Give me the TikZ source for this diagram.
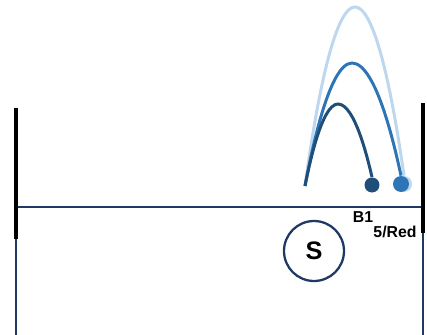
\documentclass[tikz,border=0pt]{standalone}
\usepackage{fontspec}
\setmainfont{Liberation Sans}
\usepackage{tikz}
\usetikzlibrary{positioning}
\definecolor{CourtNavy}{RGB}{31,56,100}
\definecolor{ShotDark}{RGB}{31,78,121}
\definecolor{ShotMid}{RGB}{46,117,182}
\definecolor{ShotLight}{RGB}{189,215,238}

\begin{document}
\begin{tikzpicture}[x=0.02cm,y=-0.02cm,
  post/.style={line width=2.3pt,black},
  court/.style={line width=1.1pt,CourtNavy},
  arc/.style={line width=1.7pt},
  lbl/.style={font=\bfseries\small,inner sep=0pt},
]
\useasboundingbox (0,0) rectangle (427,335);
% net posts and court lines
\draw[court] (16,207) -- (423,207);
\draw[court] (16,239) -- (16,335);
\draw[court] (423,233) -- (423,335);
\draw[post] (16,108) -- (16,239);
\draw[post] (423,103) -- (423,233);
\node[circle,draw=CourtNavy,line width=1.3pt,minimum size=1.2cm,
  font=\bfseries\Large] (srv) at (314,251) {S};
% balls
\coordinate (hit) at (305,186);
\node[circle,fill=ShotLight,inner sep=0pt,minimum size=0.32cm] (b3) at (404,184) {};
\node[circle,fill=ShotMid,inner sep=0pt,minimum size=0.32cm] (b2) at (401,184) {};
\node[circle,fill=ShotDark,inner sep=0pt,minimum size=0.3cm] (b1) at (372,185) {};
% trajectories
\draw[arc,ShotLight] (hit) parabola bend (355,7) (b3.north);
\draw[arc,ShotMid] (hit) parabola bend (352,63) (b2.north);
\draw[arc,ShotDark] (hit) parabola bend (338,104) (b1.north);
\node[lbl] (lb1) at (363,217) {B1};
\node[lbl] (lb2) at (395,232) {5/Red};
\end{tikzpicture}
\end{document}
